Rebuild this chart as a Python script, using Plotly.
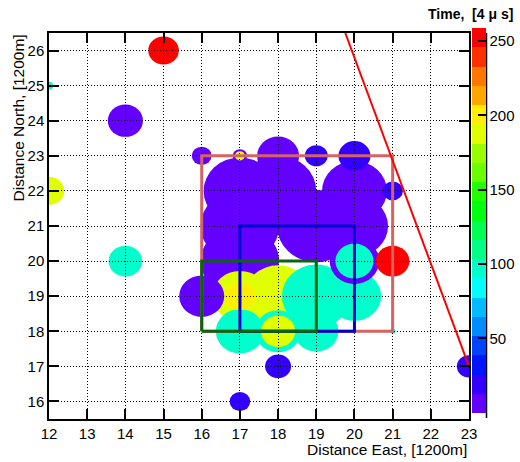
import plotly.graph_objects as go

# ---------------- data ----------------
# detector grid positions [1200 m], circle radius [grid units], arrival time [4 us]
det_east   = [15, 12, 14, 12, 14,
              17, 18, 17, 20, 20, 19, 17, 17, 18, 16,
              17, 18,
              19, 20, 17, 18, 19,
              17, 18, 16,
              17, 18, 17, 19, 20, 21, 17, 23,
              20, 20, 21, 21]
det_north  = [26, 25, 24, 22, 20,
              22, 22, 21, 22, 21, 21, 20, 20, 23, 23,
              19, 19,
              19, 19, 18, 18, 18,
              19, 18, 19,
              23, 17, 16, 23, 23, 22, 23, 17,
              20, 20, 20, 18]
det_radius = [0.40, 0.11, 0.46, 0.40, 0.44,
              0.95, 1.00, 1.03, 0.85, 0.88, 1.03, 1.02, 1.02, 0.55, 0.26,
              0.72, 0.88,
              0.90, 0.70, 0.63, 0.60, 0.58,
              0.40, 0.45, 0.59,
              0.19, 0.34, 0.27, 0.30, 0.42, 0.27, 0.13, 0.32,
              0.65, 0.50, 0.44, 0.07]
det_time   = [255, 95, 5, 190, 95,
              5, 5, 5, 5, 5, 5, 5, 5, 5, 5,
              190, 190,
              95, 95, 95, 95, 95,
              200, 190, 5,
              5, 18, 18, 18, 18, 18, 190, 18,
              5, 95, 255, 95]

# reconstructed shower axis
axis_east  = [19.76, 23.0]
axis_north = [26.5, 17.0]

# boxes: [east0, east1, north0, north1]
box_limits = [[16, 21, 18, 23], [17, 20, 18, 21], [16, 19, 18, 20]]
box_colors = ["#d46464", "#0000c8", "#0a640a"]

time_min, time_max = 0, 259
cbar_ticks = [50, 100, 150, 200, 250]
x_ticks = list(range(12, 24))
y_ticks = list(range(16, 27))

# ROOT "pretty palette", 20 contour levels
band_colors = [
    "rgb(99,0,255)", "rgb(51,0,255)", "rgb(0,20,255)", "rgb(0,68,255)",
    "rgb(0,139,255)", "rgb(0,187,255)", "rgb(0,255,252)", "rgb(0,255,204)",
    "rgb(0,255,133)", "rgb(0,255,85)", "rgb(0,255,14)", "rgb(34,255,0)",
    "rgb(105,255,0)", "rgb(153,255,0)", "rgb(224,255,0)", "rgb(255,238,0)",
    "rgb(255,167,0)", "rgb(255,119,0)", "rgb(255,48,0)", "rgb(255,0,0)",
]
nb = len(band_colors)
colorscale = []
for k, c in enumerate(band_colors):
    colorscale.append([k / nb, c])
    colorscale.append([(k + 1) / nb, c])


def time_color(t):
    k = int((t - time_min) / (time_max - time_min) * nb)
    return band_colors[max(0, min(nb - 1, k))]


FONT = "Liberation Sans, Arial, Helvetica, sans-serif"
W, H = 520, 462
ML, MR, MT, MB = 49, 51, 33, 43
CB_TOP, CB_BOT = 33, 418

fig = go.Figure()

# invisible trace carrying the colour scale
fig.add_trace(go.Scatter(
    x=det_east, y=det_north, mode="markers", hoverinfo="skip",
    marker=dict(size=1, opacity=0, color=det_time, colorscale=colorscale,
                cmin=time_min, cmax=time_max, showscale=True,
                colorbar=dict(
                    x=472 / W, xanchor="left", xref="container", xpad=0,
                    y=1 - CB_TOP / H, yanchor="top", yref="container", ypad=0,
                    len=CB_BOT - CB_TOP, lenmode="pixels",
                    thickness=14, thicknessmode="pixels", outlinewidth=0,
                    tickvals=cbar_ticks, ticks="inside", ticklen=8,
                    tickwidth=1.5, tickcolor="black",
                    tickfont=dict(family=FONT, size=15, color="black"))),
    showlegend=False))

shapes = []
for cx, cy, r, t in zip(det_east, det_north, det_radius, det_time):
    shapes.append(dict(type="circle", xref="x", yref="y", layer="below",
                       x0=cx - r, x1=cx + r, y0=cy - r, y1=cy + r,
                       fillcolor=time_color(t), line=dict(width=0)))

# boxes
for (x0, x1, y0, y1), col in zip(box_limits, box_colors):
    fig.add_trace(go.Scatter(x=[x0, x1, x1, x0, x0], y=[y0, y0, y1, y1, y0],
                             mode="lines", line=dict(color=col, width=3),
                             hoverinfo="skip", showlegend=False))

# shower axis
fig.add_trace(go.Scatter(x=axis_east, y=axis_north, mode="lines",
                         line=dict(color="#ff0000", width=2),
                         hoverinfo="skip", showlegend=False))

PW = W - ML - MR
PH = H - MT - MB
# colour bar axis line (right side)
shapes.append(dict(type="line", xref="paper", yref="paper",
                   x0=(486.5 - ML) / PW, x1=(486.5 - ML) / PW,
                   y0=(H - MB - CB_BOT) / PH, y1=(H - MB - CB_TOP) / PH,
                   line=dict(color="black", width=1.5)))

axis_common = dict(
    showline=True, linecolor="black", linewidth=1.5, mirror="ticks",
    ticks="inside", ticklen=10, tickwidth=1.5, tickcolor="black",
    showgrid=True, gridcolor="black", gridwidth=1, griddash="1px,2px",
    zeroline=False, tickfont=dict(family=FONT, size=15, color="black"))

fig.update_layout(
    width=W, height=H,
    margin=dict(l=ML, r=MR, t=MT, b=MB, autoexpand=False),
    paper_bgcolor="white", plot_bgcolor="white",
    font=dict(family=FONT, color="black"),
    xaxis=dict(range=[12, 23], tickvals=x_ticks, **axis_common),
    yaxis=dict(range=[15.5, 26.5], tickvals=y_ticks, **axis_common),
    shapes=shapes,
    annotations=[
        dict(text="Distance East, [1200m]", xref="paper", yref="paper",
             x=1, y=(H - MB - 449) / PH, xanchor="right", yanchor="middle",
             showarrow=False, font=dict(family=FONT, size=15.5)),
        dict(text="Distance North, [1200m]", xref="paper", yref="paper",
             x=(18 - ML) / PW, y=1, xanchor="center", yanchor="top",
             textangle=-90, showarrow=False, font=dict(family=FONT, size=15.5)),
        dict(text="<b>Time,  [4 \u03bc s]</b>", xref="paper", yref="paper",
             x=(515 - ML) / PW, y=(H - MB - 14) / PH, xanchor="right",
             yanchor="middle", showarrow=False,
             font=dict(family=FONT, size=14)),
    ],
)

fig.write_html("out.html", config={"displayModeBar": False},
               post_script="document.body.style.margin='0';"
                           "document.body.style.overflow='hidden';")
